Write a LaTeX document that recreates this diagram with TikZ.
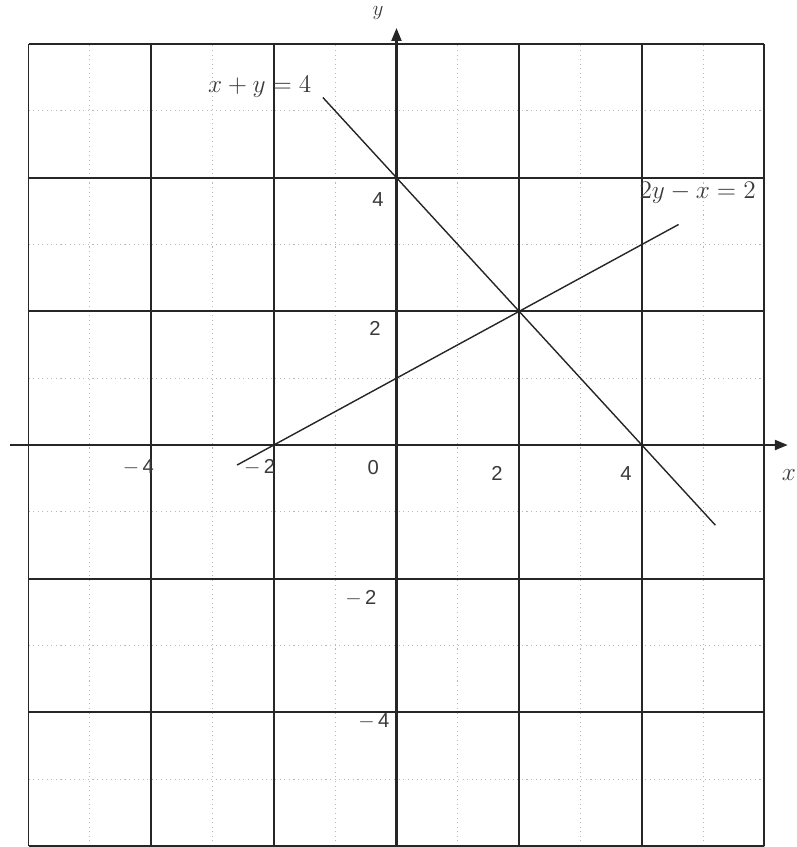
\documentclass[tikz,border=0pt]{standalone}
\usepackage{fontspec}
\usepackage{tikz}
\usetikzlibrary{arrows.meta}
\newfontfamily\ticksans{Liberation Sans}
\definecolor{gridink}{HTML}{262626}
\definecolor{dotgray}{HTML}{B8B8B8}
\definecolor{labelgray}{HTML}{3A3A3A}
\tikzset{
  ticklabel/.style={labelgray, font=\ticksans\fontsize{11.5}{13}\selectfont, inner sep=0pt},
  eqlabel/.style={labelgray, font=\fontsize{14}{16}\selectfont, inner sep=0pt},
  axisline/.style={gridink, line width=1.3pt, -{Triangle[length=0.26cm, width=0.2cm]}},
  graphline/.style={gridink, line width=0.8pt}
}

\begin{document}
\begin{tikzpicture}[x=1.2267cm, y=1.3367cm]
  \useasboundingbox (-6.465,-6.015) rectangle (6.530,6.659);
  \draw[dotgray, dotted, line width=0.6pt] (-6,-6) grid[step=1] (6,6);
  \draw[gridink, line width=1.1pt] (-6,-6) grid[step=2] (6,6);

  \draw[axisline] (-6.3,0) -- (6.38,0);
  \draw[axisline] (0,-6) -- (0,6.24);
  \node[labelgray, font=\fontsize{14}{16}\selectfont, anchor=east, inner sep=0pt] (xname) at (6.52,-0.45) {$x$};
  \node[labelgray, font=\fontsize{12}{14}\selectfont, inner sep=0pt] (yname) at (-0.3,6.46) {$y$};

  \node[ticklabel] (xm4) at (-4.21,-0.33) {$-$\,4};
  \node[ticklabel] (xm2) at (-2.23,-0.33) {$-$\,2};
  \node[ticklabel] (orig) at (-0.38,-0.33) {0};
  \node[ticklabel] (xp2) at (1.64,-0.42) {2};
  \node[ticklabel] (xp4) at (3.74,-0.42) {4};
  \node[ticklabel] (yp4) at (-0.30,3.67) {4};
  \node[ticklabel] (yp2) at (-0.35,1.75) {2};
  \node[ticklabel] (ym2) at (-0.58,-2.29) {$-$\,2};
  \node[ticklabel] (ym4) at (-0.37,-4.14) {$-$\,4};

  \coordinate (sumtop) at (-1.2,5.2);
  \coordinate (sumbot) at (5.2,-1.2);
  \draw[graphline] (sumtop) -- (sumbot);
  \coordinate (diffleft) at (-2.6,-0.3);
  \coordinate (diffright) at (4.6,3.3);
  \draw[graphline] (diffleft) -- (diffright);

  \node[eqlabel] (sumeq) at (-2.23,5.36) {$x+y=4$};
  \node[eqlabel] (diffeq) at (4.91,3.77) {$2y-x=2$};
\end{tikzpicture}
\end{document}
